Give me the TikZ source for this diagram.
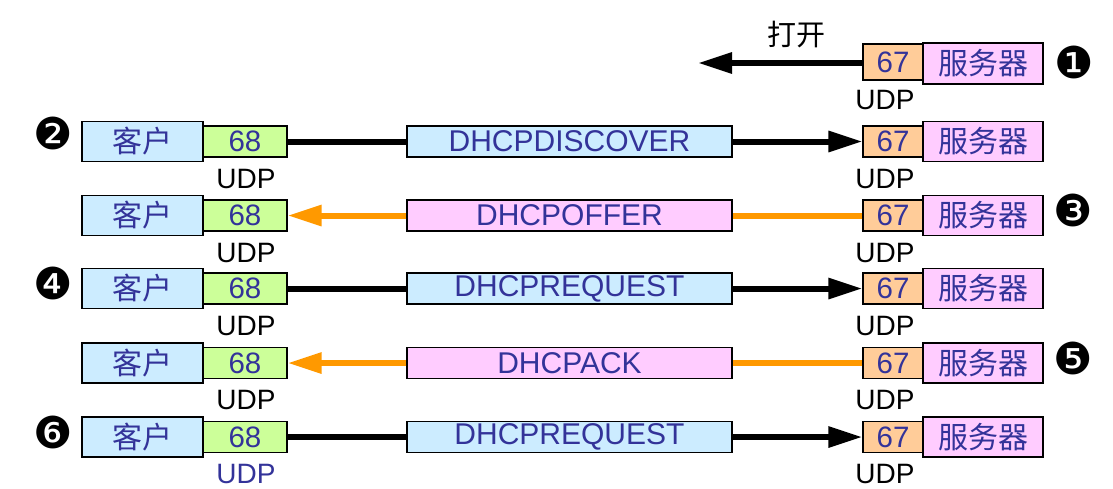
\documentclass[tikz,border=0pt]{standalone}
\usepackage{fontspec}
\setmainfont{Liberation Sans}
\setsansfont{Liberation Sans}
\newfontfamily\cjk{Noto Sans CJK SC}
\newfontfamily\dejavu{DejaVu Sans}
\usetikzlibrary{arrows.meta}
\definecolor{dblue}{HTML}{333399}
\definecolor{cfill}{HTML}{CCECFF}
\definecolor{pfill68}{HTML}{CCFF99}
\definecolor{pfill67}{HTML}{FFCC99}
\definecolor{sfill}{HTML}{FFCCFF}
\definecolor{orng}{HTML}{FF9900}
\tikzset{
  box/.style={draw=black, line width=1.2pt, inner sep=0pt, text=dblue,
    font=\fontsize{29.5}{30}\selectfont},
  client/.style={box, fill=cfill, minimum width=121pt, minimum height=40pt, font=\cjk\fontsize{30}{30}\selectfont},
  server/.style={box, fill=sfill, minimum width=120pt, minimum height=40pt, font=\cjk\fontsize{30}{30}\selectfont},
  cport/.style={box, fill=pfill68, minimum width=84pt, minimum height=31pt},
  sport/.style={box, fill=pfill67, minimum width=60pt, minimum height=31pt},
  msgc/.style={box, fill=cfill, minimum width=325pt, minimum height=31pt, font=\fontsize{30}{30}\selectfont},
  msgs/.style={box, fill=sfill, minimum width=325pt, minimum height=31pt, font=\fontsize{30}{30}\selectfont},
  udp/.style={inner sep=0pt, font=\fontsize{28}{28}\selectfont, text=black},
  bullet/.style={inner sep=0pt, font=\dejavu\fontsize{44}{44}\selectfont},
  blk/.style={line width=6pt, draw=black},
  org/.style={line width=6pt, draw=orng},
  tip/.style={-{Triangle[length=34pt,width=20pt]}},
}
\begin{document}
\begin{tikzpicture}[x=1pt,y=-1pt]
\useasboundingbox (0,0) rectangle (1113,488);
% row 1
\node[sport, minimum height=36pt] (s1p) at (893,62) {67};
\node[server, minimum height=41pt] (s1) at (983,63.5) {服务器};
\node[udp] (u1) at (885,100) {UDP};
\node[bullet] (b1) at (1074,62) {❶};
\coordinate (open) at (698,63);
\node[inner sep=0pt, font=\cjk\fontsize{29}{29}\selectfont] (ot) at (796,35) {打开};
\draw[blk,tip] (s1p.west |- open) -- (open);
% row 2
\node[client] (c2) at (142.5,141.5) {客户};
\node[cport] (c2p) at (245,141.5) {68};
\node[msgc] (m2) at (569.5,141.5) {DHCPDISCOVER};
\node[sport] (s2p) at (893,141.5) {67};
\node[server] (s2) at (983,141.5) {服务器};
\node[udp] (u2c) at (246,178.5) {UDP};
\node[udp] (u2s) at (885,178.5) {UDP};
\node[bullet] (b2) at (53,133) {❷};
\draw[blk] (c2p.east) -- (m2.west);
\draw[blk,tip] (m2.east) -- (s2p.west);
% row 3
\node[client] (c3) at (142.5,215.5) {客户};
\node[cport] (c3p) at (245,215.5) {68};
\node[msgs] (m3) at (569.5,215.5) {DHCPOFFER};
\node[sport] (s3p) at (893,215.5) {67};
\node[server] (s3) at (983,215.5) {服务器};
\node[udp] (u3c) at (246,252.5) {UDP};
\node[udp] (u3s) at (885,252.5) {UDP};
\node[bullet] (b3) at (1073,210) {❸};
\draw[org] (s3p.west) -- (m3.east);
\draw[org,tip] (m3.west) -- (c3p.east);
% row 4
\node[client] (c4) at (142.5,288.5) {客户};
\node[cport] (c4p) at (245,288.5) {68};
\node[msgc] (m4) at (569.5,288.5) {DHCPREQUEST};
\node[sport] (s4p) at (893,288.5) {67};
\node[server] (s4) at (983,288.5) {服务器};
\node[udp] (u4c) at (246,325.5) {UDP};
\node[udp] (u4s) at (885,325.5) {UDP};
\node[bullet] (b4) at (53,283) {❹};
\draw[blk] (c4p.east) -- (m4.west);
\draw[blk,tip] (m4.east) -- (s4p.west);
% row 5
\node[client] (c5) at (142.5,363) {客户};
\node[cport] (c5p) at (245,363) {68};
\node[msgs] (m5) at (569.5,363) {DHCPACK};
\node[sport] (s5p) at (893,363) {67};
\node[server] (s5) at (983,363) {服务器};
\node[udp] (u5c) at (246,400) {UDP};
\node[udp] (u5s) at (885,400) {UDP};
\node[bullet] (b5) at (1073,358) {❺};
\draw[org] (s5p.west) -- (m5.east);
\draw[org,tip] (m5.west) -- (c5p.east);
% row 6
\node[client] (c6) at (142.5,437) {客户};
\node[cport] (c6p) at (245,437) {68};
\node[msgc] (m6) at (569.5,437) {DHCPREQUEST};
\node[sport] (s6p) at (893,437) {67};
\node[server] (s6) at (983,437) {服务器};
\node[udp, text=dblue] (u6c) at (246,474) {UDP};
\node[udp] (u6s) at (885,474) {UDP};
\node[bullet] (b6) at (53,432) {❻};
\draw[blk] (c6p.east) -- (m6.west);
\draw[blk,tip] (m6.east) -- (s6p.west);
\end{tikzpicture}
\end{document}
